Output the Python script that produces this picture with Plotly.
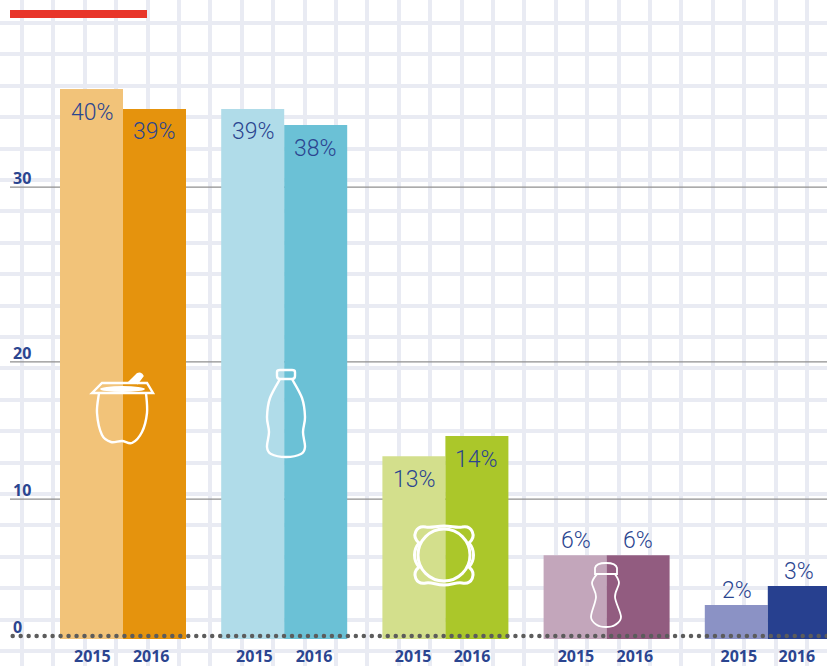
import numpy as np
import plotly.graph_objects as go

W, H = 827, 666
BLUE = "#2b4590"
GRID = "#e9ebf3"

# ---- data -------------------------------------------------------------
groups = [0, 1, 2, 3, 4]
bars_2015 = [40.0, 38.55, 13.3, 6.1, 2.47]
bars_2016 = [38.55, 37.38, 14.76, 6.1, 3.85]
labels_2015 = ["40%", "39%", "13%", "6%", "2%"]
labels_2016 = ["39%", "38%", "14%", "6%", "3%"]
colors_2015 = ["#f2c379", "#b0dce9", "#d3df8c", "#c3a6bb", "#8b92c5"]
colors_2016 = ["#e5930d", "#6bc1d6", "#abc72a", "#925c80", "#27408f"]
y_tick_vals = [0.22, 10.18, 20.15, 32.87]
y_tick_text = ["0", "10", "20", "30"]
year_labels = ["2015", "2016"]
year_tick_offsets_2015 = [-0.19, -0.185, -0.20, -0.19, -0.18]
year_tick_offsets_2016 = [0.175, 0.185, 0.165, 0.175, 0.18]
baseline_value = 0.22

# ---- geometry ---------------------------------------------------------
PX_PER_GROUP = 161.2
GROUP0_PX = 123
LEFT_PX = 10
BOTTOM_PX = 639
PX_PER_UNIT = 13.75
x_range = [(LEFT_PX - GROUP0_PX) / PX_PER_GROUP, (W - GROUP0_PX) / PX_PER_GROUP]
y_range = [0, BOTTOM_PX / PX_PER_UNIT]

fig = go.Figure()

# background lattice (pixel-scaled axes)
fig.add_trace(go.Scatter(x=[0], y=[0], mode="markers", marker=dict(opacity=0),
                         hoverinfo="skip", xaxis="x", yaxis="y", showlegend=False))

fig.add_trace(go.Bar(x=groups, y=bars_2015, marker=dict(color=colors_2015, line_width=0),
                     xaxis="x2", yaxis="y2", showlegend=False, name="2015"))
fig.add_trace(go.Bar(x=groups, y=bars_2016, marker=dict(color=colors_2016, line_width=0),
                     xaxis="x2", yaxis="y2", showlegend=False, name="2016"))

# dotted baseline
dot_x = np.arange(x_range[0] + 2.7 / PX_PER_GROUP, x_range[1], 7.98 / PX_PER_GROUP)
fig.add_trace(go.Scatter(x=dot_x, y=[baseline_value] * len(dot_x), mode="markers",
                         marker=dict(color="#5c5c5c", size=4.5, line_width=0),
                         cliponaxis=False, xaxis="x2", yaxis="y2",
                         showlegend=False, hoverinfo="skip"))

# value labels
annotations = []
for i, g in enumerate(groups):
    for off, val, lab in ((-0.19, bars_2015[i], labels_2015[i]),
                          (0.195, bars_2016[i], labels_2016[i])):
        inside = val > 10
        annotations.append(dict(x=g + off, y=val, xref="x2", yref="y2", text=lab,
                                showarrow=False, xanchor="center", yanchor="middle",
                                yshift=-23 if inside else 15,
                                font=dict(family="Roboto", size=23, weight=300, color=BLUE)))

# horizontal reference lines
shapes = []
for v in y_tick_vals[1:]:
    shapes.append(dict(type="line", xref="x2", yref="y2", x0=x_range[0], x1=x_range[1], y0=v, y1=v,
                       line=dict(color="#8f8f8f", width=1.3), layer="below"))

# red header bar
shapes.append(dict(type="rect", xref="x", yref="y", x0=10, x1=147, y0=10, y1=18,
                   fillcolor="#e8352a", line_width=0, layer="above"))


def smooth(points, closed=False):
    """Catmull-Rom outline through the given points as an SVG path."""
    p = points
    n = len(p)
    out = f"M {p[0][0]} {p[0][1]}"
    rng = range(n if closed else n - 1)
    for i in rng:
        if closed:
            p0, p1, p2, p3 = p[(i - 1) % n], p[i], p[(i + 1) % n], p[(i + 2) % n]
        else:
            p0, p1, p2, p3 = p[max(i - 1, 0)], p[i], p[i + 1], p[min(i + 2, n - 1)]
        c1 = (p1[0] + (p2[0] - p0[0]) / 6, p1[1] + (p2[1] - p0[1]) / 6)
        c2 = (p2[0] - (p3[0] - p1[0]) / 6, p2[1] - (p3[1] - p1[1]) / 6)
        out += f" C {c1[0]:.1f} {c1[1]:.1f} {c2[0]:.1f} {c2[1]:.1f} {p2[0]} {p2[1]}"
    return out + (" Z" if closed else "")


def icon(path, width=2.4, fill=None):
    shapes.append(dict(type="path", xref="x", yref="y", path=path, layer="above",
                       line=dict(color="white", width=width),
                       fillcolor=fill or "rgba(0,0,0,0)"))


# yogurt pot
icon("M 92 393 L 102 383 L 147 383 L 153 393 Z")
icon(smooth([(99, 393), (97, 413), (102, 435), (111, 442), (122, 441), (132, 443), (142, 432), (147, 413), (146, 393)]))
shapes.append(dict(type="circle", xref="x", yref="y", x0=100, x1=145, y0=386, y1=392,
                   fillcolor="white", line_width=0, layer="above"))
icon("M 128 383 L 137 374 Q 141 372 143 376 L 137 384", fill="white", width=1.5)

# bottle
icon("M 280 379 Q 277 379 277 376 L 277 372 Q 277 370 280 370 L 292 370 Q 295 370 295 372 L 295 376 Q 295 379 292 379 Z")
icon(smooth([(280, 379), (270, 398), (267, 417), (269, 432), (267, 447), (271, 454), (286, 457), (301, 454), (305, 447), (303, 432), (305, 417), (302, 398), (292, 379)]))

# plate
shapes.append(dict(type="circle", xref="x", yref="y", x0=418, x1=470, y0=529, y1=581,
                   line=dict(color="white", width=3), layer="above"))
icon("M 444 526 C 452 526 456 528 462 527 C 472 525 477 536 469 543 C 475 550 475 560 469 567 "
     "C 477 574 472 585 462 583 C 456 582 452 585 444 585 C 436 585 432 582 426 583 "
     "C 416 585 411 574 419 567 C 413 560 413 550 419 543 C 411 536 416 525 426 527 C 432 528 436 526 444 526 Z", width=3)

# small bottle
icon("M 595 574 L 595 568 Q 596 563 606 563 Q 616 563 617 568 L 617 574 Z", width=1.8)
icon(smooth([(597, 574), (592, 583), (596, 597), (591, 617), (597, 625), (606, 627), (615, 625), (621, 617), (615, 597), (619, 583), (615, 574)]), width=1.8)

x_tick_vals = [g + o for g, o in zip(groups, year_tick_offsets_2015)] + \
              [g + o for g, o in zip(groups, year_tick_offsets_2016)]
x_tick_text = [year_labels[0]] * len(groups) + [year_labels[1]] * len(groups)

tick_font = dict(family="Open Sans", size=16, color=BLUE, weight=700)

fig.update_layout(
    width=W, height=H, margin=dict(l=0, r=0, t=0, b=0, autoexpand=False),
    paper_bgcolor="white", plot_bgcolor="rgba(0,0,0,0)",
    barmode="group", bargap=1 - 126 / PX_PER_GROUP, bargroupgap=0,
    hovermode=False, showlegend=False, shapes=shapes, annotations=annotations,
    xaxis=dict(domain=[0, 1], range=[0, W], tick0=22, dtick=31.4, showgrid=True,
               gridcolor=GRID, gridwidth=4, zeroline=False, showticklabels=False, ticks=""),
    yaxis=dict(domain=[0, 1], range=[H, 0], tick0=23, dtick=31.4, showgrid=True,
               gridcolor=GRID, gridwidth=4, zeroline=False, showticklabels=False, ticks=""),
    xaxis2=dict(domain=[LEFT_PX / W, 1], range=x_range, anchor="y2", showgrid=False, zeroline=False,
                tickmode="array", tickvals=x_tick_vals, ticktext=x_tick_text,
                ticks="outside", ticklen=3, tickcolor="rgba(0,0,0,0)", tickfont=tick_font),
    yaxis2=dict(domain=[(H - BOTTOM_PX) / H, 1], range=y_range, anchor="x2", showgrid=False, zeroline=False,
                tickmode="array", tickvals=y_tick_vals, ticktext=y_tick_text,
                ticklabelposition="inside", ticklabelshift=-9, ticks="", tickfont=tick_font),
)

fig.write_html("out.html", config={"displayModeBar": False},
               post_script="document.body.style.margin='0';document.documentElement.style.overflow='hidden';")
